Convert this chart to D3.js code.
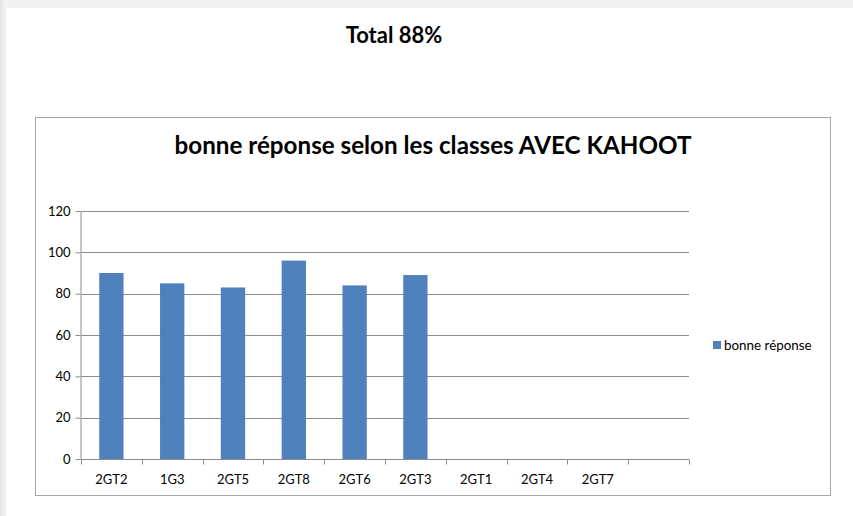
<!DOCTYPE html>
<html>
<head>
<meta charset="utf-8">
<script src="https://cdn.jsdelivr.net/npm/d3@7"></script>
<style>
  body { margin: 0; background: #fff; }
  text { font-family: Lato, "Open Sans", sans-serif; }
</style>
</head>
<body>
<div id="chart"></div>
<script>
// Data
const categories = ["2GT2", "1G3", "2GT5", "2GT8", "2GT6", "2GT3", "2GT1", "2GT4", "2GT7", ""];
const values = [90, 85, 83, 96, 84, 89, null, null, null, null];
const yTicks = [0, 20, 40, 60, 80, 100, 120];
const seriesName = "bonne réponse";
const pageTitle = "Total 88%";
const chartTitle = "bonne réponse selon les classes AVEC KAHOOT";

const width = 853, height = 516;
const frame = {left: 35.5, top: 117.5, right: 830.5, bottom: 495.5};
const plot = {left: 81, top: 211, right: 689, bottom: 459};

const svg = d3.select("#chart").append("svg")
  .attr("width", width)
  .attr("height", height);

// Page edges (screenshot of a document page)
const defs = svg.append("defs");
const grad = defs.append("linearGradient").attr("id", "edge").attr("x1", 0).attr("x2", 1);
grad.append("stop").attr("offset", 0).attr("stop-color", "#e4e4e4");
grad.append("stop").attr("offset", 1).attr("stop-color", "#f8f8f8");
svg.append("rect").attr("x", 0).attr("y", 0).attr("width", width).attr("height", 8).attr("fill", "#f0f0f0");
svg.append("rect").attr("x", 0).attr("y", 0).attr("width", 7).attr("height", height).attr("fill", "url(#edge)");

svg.append("text")
  .attr("x", 394).attr("y", 43)
  .attr("text-anchor", "middle")
  .style("font-size", "22px").style("font-weight", "bold")
  .text(pageTitle);

// Chart frame
svg.append("rect")
  .attr("x", frame.left).attr("y", frame.top)
  .attr("width", frame.right - frame.left).attr("height", frame.bottom - frame.top)
  .attr("fill", "#fff").attr("stroke", "#a6a6a6");

svg.append("text")
  .attr("x", 433).attr("y", 154)
  .attr("text-anchor", "middle")
  .style("font-size", "24.2px").style("font-weight", "bold")
  .text(chartTitle);

const x = d3.scaleBand().domain(d3.range(categories.length)).range([plot.left, plot.right]).padding(0);
const y = d3.scaleLinear().domain([0, 120]).range([plot.bottom, plot.top]);

// Gridlines
svg.append("g").selectAll("line")
  .data(yTicks.filter(d => d > 0))
  .join("line")
  .attr("x1", plot.left).attr("x2", plot.right)
  .attr("y1", d => Math.round(y(d)) + 0.5).attr("y2", d => Math.round(y(d)) + 0.5)
  .attr("stroke", "#8c8c8c");

// Bars
const barW = x.bandwidth() * 0.4;
svg.append("g").selectAll("rect")
  .data(values.map((v, i) => ({v, i})).filter(d => d.v != null))
  .join("rect")
  .attr("x", d => x(d.i) + (x.bandwidth() - barW) / 2)
  .attr("width", barW)
  .attr("y", d => y(d.v))
  .attr("height", d => y(0) - y(d.v))
  .attr("fill", "#4f81bd");

// Y axis
const yAxis = svg.append("g")
  .attr("transform", "translate(" + (plot.left - 0.5) + ",0)")
  .call(d3.axisLeft(y).tickValues(yTicks).tickSize(5).tickSizeOuter(0));
yAxis.select(".domain").attr("stroke", "#8c8c8c");
yAxis.selectAll(".tick line").attr("stroke", "#8c8c8c");
yAxis.selectAll(".tick text").attr("x", -10)
  .style("font-family", "Lato, 'Open Sans', sans-serif").style("font-size", "13px").attr("fill", "#000");

// X axis with ticks at category boundaries
const xAxis = svg.append("g").attr("transform", "translate(0," + (plot.bottom + 0.5) + ")");
xAxis.append("line").attr("x1", plot.left).attr("x2", plot.right).attr("stroke", "#8c8c8c");
xAxis.selectAll("line.tk")
  .data(d3.range(categories.length + 1))
  .join("line").attr("class", "tk")
  .attr("x1", d => Math.round(plot.left + d * x.step()) + 0.5)
  .attr("x2", d => Math.round(plot.left + d * x.step()) + 0.5)
  .attr("y1", 0).attr("y2", 5)
  .attr("stroke", "#8c8c8c");
xAxis.selectAll("text")
  .data(categories)
  .join("text")
  .attr("x", (d, i) => x(i) + x.bandwidth() / 2)
  .attr("y", 24)
  .attr("text-anchor", "middle")
  .style("font-size", "13px")
  .text(d => d);

// Legend
const legend = svg.append("g").attr("transform", "translate(713,341)");
legend.append("rect").attr("width", 8).attr("height", 8).attr("fill", "#4f81bd");
legend.append("text").attr("x", 11).attr("y", 8.5).style("font-size", "13.4px").text(seriesName);
</script>
</body>
</html>
